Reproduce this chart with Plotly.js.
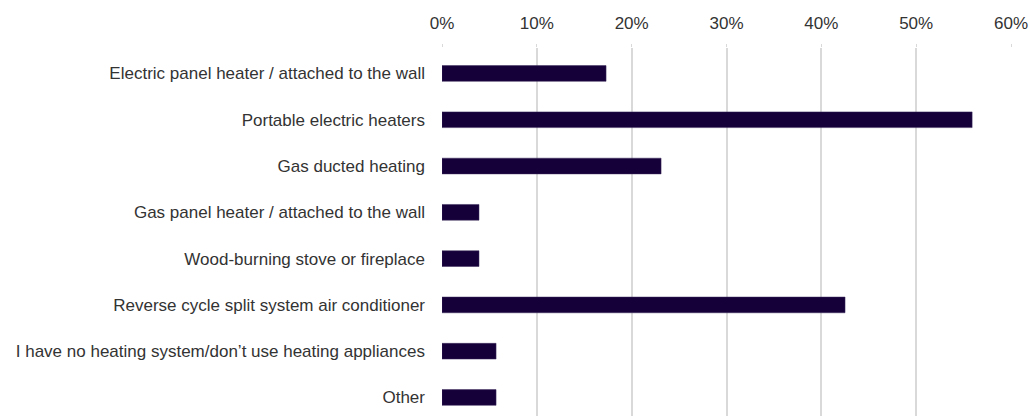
<!DOCTYPE html>
<html>
<head>
<meta charset="utf-8">
<script src="https://cdn.plot.ly/plotly-3.0.1.min.js"></script>
<style>html,body{margin:0;padding:0;background:#fff;}#chart{width:1030px;height:416px;}</style>
</head>
<body>
<div id="chart"></div>
<script>
const categories = [
  "Electric panel heater / attached to the wall",
  "Portable electric heaters",
  "Gas ducted heating",
  "Gas panel heater / attached to the wall",
  "Wood-burning stove or fireplace",
  "Reverse cycle split system air conditioner",
  "I have no heating system/don\u2019t use heating appliances",
  "Other"
];
const values = [0.173, 0.559, 0.231, 0.039, 0.039, 0.425, 0.057, 0.057];
const tickVals = [0, 0.1, 0.2, 0.3, 0.4, 0.5, 0.6];

const trace = {
  type: 'bar',
  orientation: 'h',
  x: values,
  y: categories,
  marker: {color: '#16003a', line: {color: '#3a2a5a', width: 0.5}},
  width: 0.34,
  hoverinfo: 'x+y'
};

const font = {family: '"Liberation Sans Narrow", "Arial Narrow", "Liberation Sans", Arial, sans-serif', size: 17, color: '#333333'};

const layout = {
  width: 1030, height: 416,
  margin: {l: 442, r: 19, t: 48, b: 0, pad: 0},
  paper_bgcolor: '#fff', plot_bgcolor: '#fff',
  font: font,
  showlegend: false,
  bargap: 0.66,
  xaxis: {
    side: 'top',
    range: [0, 0.6],
    tickvals: tickVals,
    tickformat: '.0%',
    showgrid: true, gridcolor: '#d9d9d9', gridwidth: 2,
    zeroline: false, showline: false,
    ticks: 'outside', ticklen: 3, tickcolor: '#d9d9d9', tickwidth: 1,
    ticklabelstandoff: 8,
    tickfont: font,
    fixedrange: true
  },
  yaxis: {
    type: 'category',
    categoryorder: 'array',
    categoryarray: categories,
    range: [7.4, -0.55],
    showgrid: false, zeroline: false, showline: false,
    ticks: '',
    ticklabelstandoff: 16,
    tickfont: font,
    fixedrange: true
  }
};

Plotly.newPlot('chart', [trace], layout, {displayModeBar: false, staticPlot: true});
</script>
</body>
</html>
